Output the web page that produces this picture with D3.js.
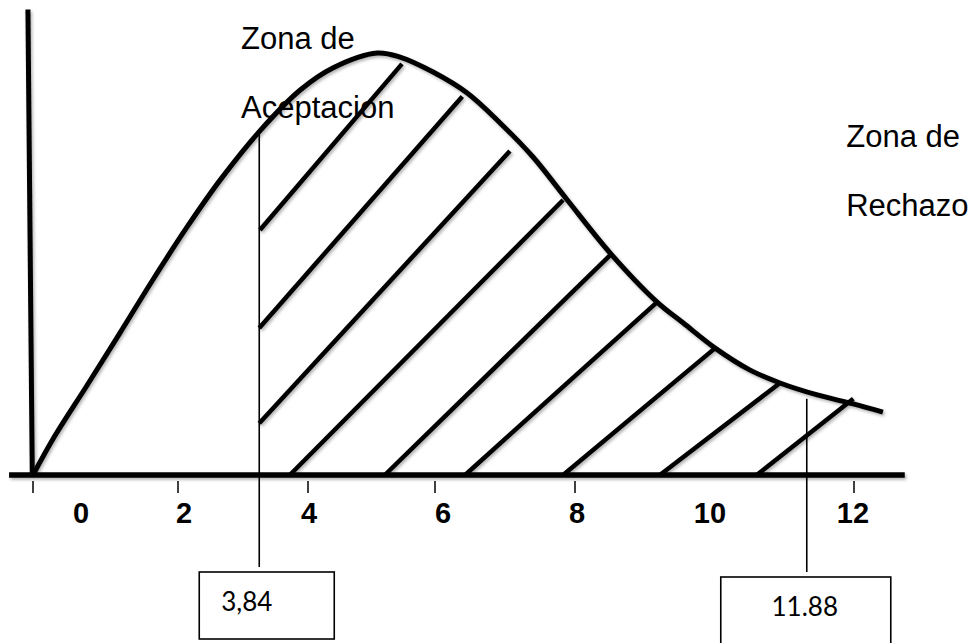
<!DOCTYPE html>
<html>
<head>
<meta charset="utf-8">
<script src="https://cdn.jsdelivr.net/npm/d3@7"></script>
<style>
  html, body { margin: 0; padding: 0; background: #fff; }
  svg { display: block; }
</style>
</head>
<body>
<svg id="chart" width="978" height="643"></svg>
<script>
// ---------- data ----------
const xTicks      = [0, 2, 4, 6, 8, 10, 12];
const tickMarks   = [0, 2, 4, 6, 8, 12];
const tickLabels  = ["0", "2", "4", "6", "8", "10", "12"];

// density curve
const curveX = [0, 0.30, 0.74, 1.20, 1.66, 2.14, 2.65, 3.26, 3.88, 4.39, 5.09, 5.45, 5.97,
                6.46, 6.93, 7.40, 7.89, 8.51, 9.19, 9.57, 10.03, 10.52, 10.95, 11.48, 11.99, 12.41];
const curveY = [0, 0.0143, 0.0327, 0.0522, 0.0720, 0.0911, 0.1084, 0.1264, 0.1414, 0.1495, 0.1550, 0.1535, 0.1480,
                0.1403, 0.1293, 0.1168, 0.1010, 0.0815, 0.0635, 0.0558, 0.0466, 0.0386, 0.0338, 0.0294, 0.0261, 0.0231];

// hatch strokes of the shaded area
const hatchX1 = [3.26, 3.25, 3.25, 3.72, 5.21, 6.43, 7.83, 9.23, 10.62];
const hatchY1 = [0.090, 0.054, 0.019, 0, 0, 0, 0, 0, 0];
const hatchX2 = [5.48, 6.39, 7.07, 7.83, 8.54, 9.19, 10.03, 10.95, 11.99];
const hatchY2 = [0.151, 0.139, 0.119, 0.101, 0.0815, 0.0635, 0.0466, 0.0338, 0.028];

// critical value markers
const critX      = [3.25, 11.33];
const critTopY   = [0.126, 0.028];
const critLabels = ["3,84", "11.88"];

// zone labels
const zoneLines = [["Zona de", "Aceptacion"], ["Zona de", "Rechazo"]];
const zoneX     = [2.97, 11.89];
const zoneY     = [0.1565, 0.1205];

// ---------- scales ----------
const svg = d3.select("#chart");
svg.append("rect").attr("width", 978).attr("height", 643).attr("fill", "#fff");

const x = d3.scaleLinear().domain(xTicks).range([33, 178, 308, 435, 575, 713, 854]);
const xLabel = d3.scaleLinear().domain(xTicks).range([81, 184, 309, 443, 577, 710, 853]);
const y = d3.scaleLinear().domain([0, 0.155]).range([475, 53]);

// shadow filter
const defs = svg.append("defs");
const f = defs.append("filter").attr("id", "shadow")
  .attr("x", "-10%").attr("y", "-10%").attr("width", "130%").attr("height", "130%");
f.append("feDropShadow").attr("dx", 1.5).attr("dy", 2).attr("stdDeviation", 1.4)
  .attr("flood-color", "#000").attr("flood-opacity", 0.3);

const g = svg.append("g").attr("filter", "url(#shadow)");

// axes
g.append("line")
  .attr("x1", x(-0.33)).attr("x2", x(12.72))
  .attr("y1", y(0)).attr("y2", y(0))
  .attr("stroke", "#000").attr("stroke-width", 5.5);
g.append("line")
  .attr("x1", x(-0.07)).attr("y1", y(0.171))
  .attr("x2", x(-0.01)).attr("y2", y(0))
  .attr("stroke", "#000").attr("stroke-width", 5);

// hatch lines
g.selectAll("line.hatch")
  .data(hatchX1.map((d, i) => i))
  .join("line")
  .attr("class", "hatch")
  .attr("x1", i => x(hatchX1[i])).attr("y1", i => y(hatchY1[i]))
  .attr("x2", i => x(hatchX2[i])).attr("y2", i => y(hatchY2[i]))
  .attr("stroke", "#000").attr("stroke-width", 4.5);

// curve
const pts = curveX.map((d, i) => [d, curveY[i]]);
g.append("path")
  .datum(pts)
  .attr("d", d3.line().x(d => x(d[0])).y(d => y(d[1])).curve(d3.curveCatmullRom.alpha(0.5)))
  .attr("fill", "none").attr("stroke", "#000").attr("stroke-width", 5)
  .attr("stroke-linecap", "butt");

// tick marks
svg.selectAll("line.tick")
  .data(tickMarks)
  .join("line")
  .attr("class", "tick")
  .attr("x1", d => x(d)).attr("x2", d => x(d))
  .attr("y1", y(0) + 6).attr("y2", y(0) + 18)
  .attr("stroke", "#000").attr("stroke-width", 1.5);

// tick labels
svg.selectAll("text.tl")
  .data(xTicks)
  .join("text")
  .attr("class", "tl")
  .attr("x", d => xLabel(d)).attr("y", 523)
  .attr("text-anchor", "middle")
  .attr("font-family", "'Liberation Sans', Arial, sans-serif")
  .attr("font-weight", "bold").attr("font-size", 29)
  .text((d, i) => tickLabels[i]);

// critical markers: thin line + box
const boxes = [
  { left: -60, width: 135, top: 572, height: 67, anchor: "start", tx: 22 },
  { left: -86, width: 170, top: 577, height: 90, anchor: "middle", tx: 84 }
];
critX.forEach((c, i) => {
  const cx = x(c), b = boxes[i];
  svg.append("line")
    .attr("x1", cx).attr("x2", cx)
    .attr("y1", y(critTopY[i])).attr("y2", b.top - 5)
    .attr("stroke", "#000").attr("stroke-width", 1.6);
  svg.append("rect")
    .attr("x", cx + b.left).attr("y", b.top)
    .attr("width", b.width).attr("height", b.height)
    .attr("fill", "none").attr("stroke", "#000").attr("stroke-width", 1.6);
  svg.append("text")
    .attr("x", cx + b.left + b.tx).attr("y", b.top + 39)
    .attr("text-anchor", b.anchor)
    .attr("font-family", "Lato, 'Open Sans', sans-serif")
    .attr("font-size", 26)
    .text(critLabels[i]);
});

// zone labels
zoneLines.forEach((lines, i) => {
  lines.forEach((t, j) => {
    svg.append("text")
      .attr("x", x(zoneX[i])).attr("y", y(zoneY[i]) + j * 69)
      .attr("font-family", "'Liberation Sans', Arial, sans-serif")
      .attr("font-size", 31)
      .text(t);
  });
});
</script>
</body>
</html>
